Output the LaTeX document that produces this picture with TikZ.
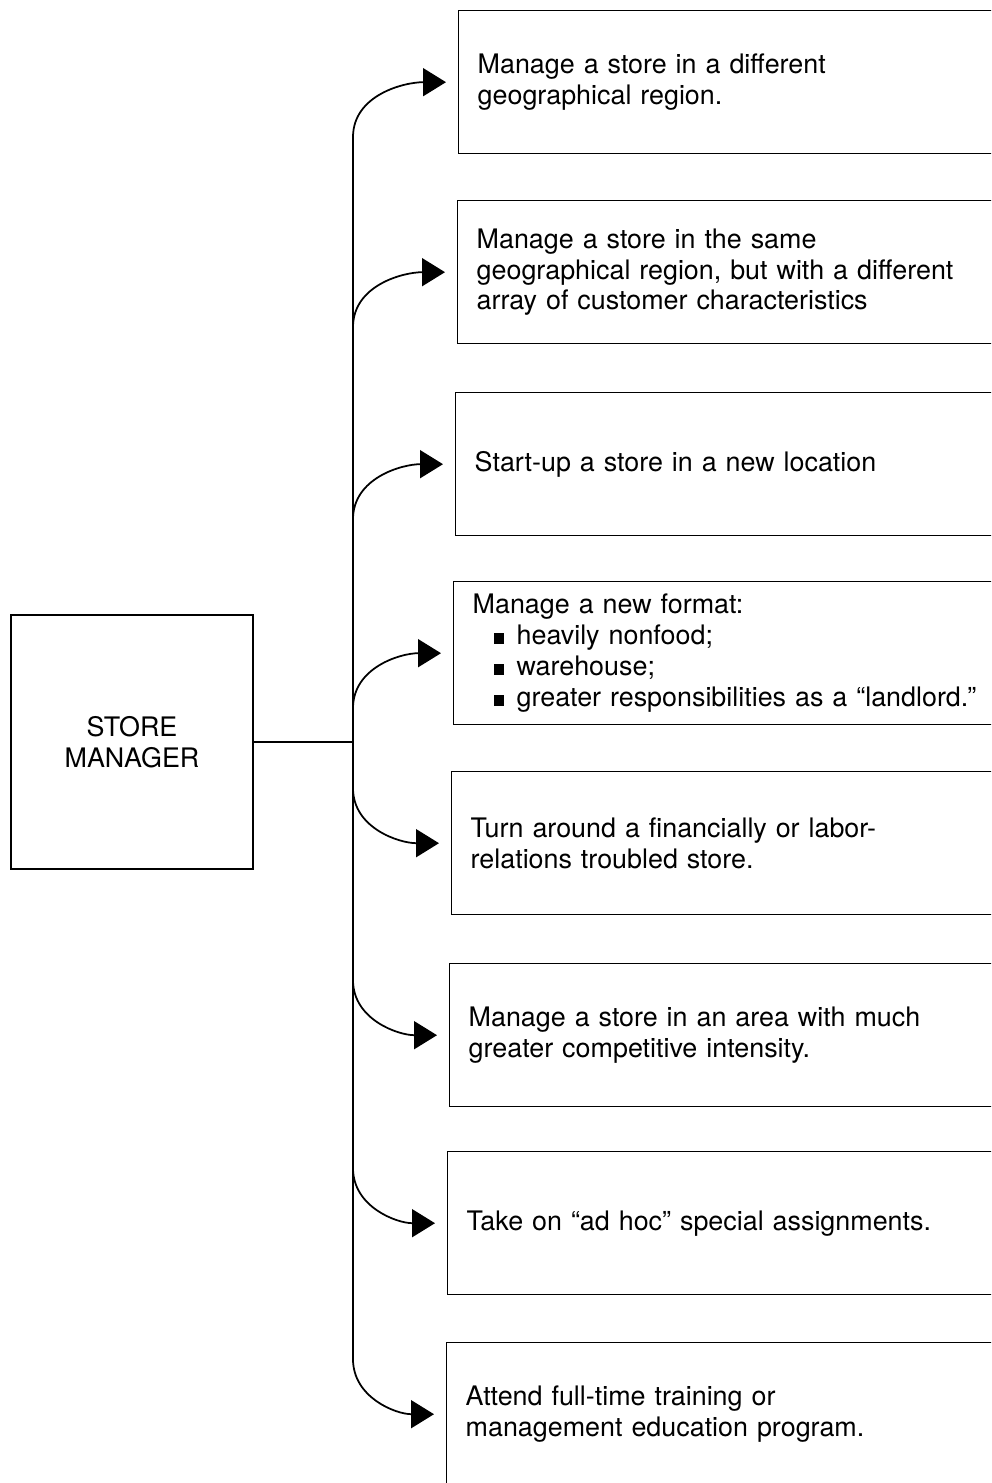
\documentclass[tikz,border=0pt]{standalone}
\usepackage{fontspec}
\setmainfont{TeX Gyre Heros}
\usetikzlibrary{arrows.meta,calc}

\newcommand{\sqbul}{\hspace*{0.42cm}\rule[0.5pt]{0.2cm}{0.22cm}\hspace{0.26cm}}

\begin{document}
\begin{tikzpicture}[x=0.02cm, y=-0.02cm,
        >={Triangle[length=0.46cm,width=0.56cm]},
        every node/.style={font=\fontsize{15.3}{17.6}\selectfont},
        optbox/.style={draw, line width=0.8pt, anchor=north west, minimum height=2.86cm,
            text width=11cm, inner xsep=0.38cm, align=left},
        mgrbox/.style={draw, line width=0.8pt, minimum width=4.84cm, minimum height=5.08cm, align=center},
        branch/.style={->, line width=1pt}]
        % --- 1. Parameters ---
        \def\trunkX{353}
        \def\bend{55}

        \useasboundingbox (0,0) rectangle (991,1483);
        \clip (0,0) rectangle (991,1483);

        % --- 2. Career options ---
        \node[optbox] (region) at (458,10) {Manage a store in a different\\geographical region.};
        \node[optbox] (custmix) at (457,200) {Manage a store in the same\\geographical region, but with a different\\array of customer characteristics};
        \node[optbox] (startup) at (455,392) {Start-up a store in a new location};
        \node[optbox] (format) at (453,581) {Manage a new format:\\
            \sqbul heavily nonfood;\\
            \sqbul warehouse;\\
            \sqbul greater responsibilities as a “landlord.”};
        \node[optbox] (turnaround) at (451,771) {Turn around a financially or labor-\\relations troubled store.};
        \node[optbox] (compete) at (449,963) {Manage a store in an area with much\\greater competitive intensity.};
        \node[optbox] (adhoc) at (447,1151) {Take on “ad hoc” special assignments.};
        \node[optbox] (training) at (446,1342) {Attend full-time training or\\management education program.};

        % --- 3. Store manager ---
        \node[mgrbox] (mgr) at (132,742) {STORE\\MANAGER};

        % --- 4. Branching arrows ---
        \foreach \nm/\dir/\ang [count=\i] in {region/1/90, custmix/1/90, startup/1/90, format/1/90,
                turnaround/-1/270, compete/-1/270, adhoc/-1/270, training/-1/270} {
            \coordinate (s\i) at ($(\nm.west -| \trunkX,0)+(0,\dir*\bend)$);
            \draw[branch] (s\i) to[out=\ang, in=180] ([xshift=-0.24cm]\nm.west);
        }
        \draw[line width=1pt] (s1) -- (s8);
        \draw[line width=0.8pt] (mgr.east) -- (mgr.east -| s1);
    \end{tikzpicture}
\end{document}
